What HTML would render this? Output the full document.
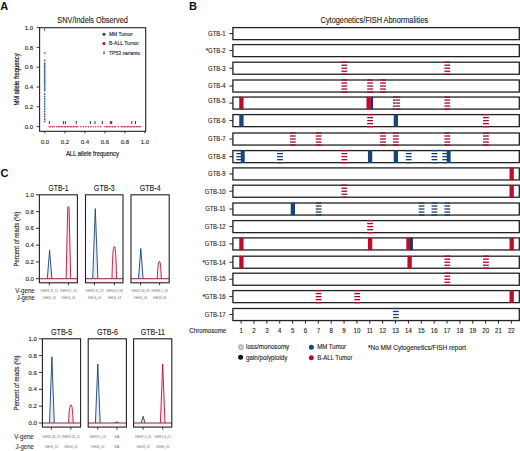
<!DOCTYPE html>
<html><head><meta charset="utf-8"><style>
html,body{margin:0;padding:0;background:#fff;}
svg{display:block;font-family:"Liberation Sans", sans-serif;}
</style></head><body>
<svg width="520" height="451" viewBox="0 0 520 451">
<rect width="520" height="451" fill="#fff"/>
<text x="0.20" y="9.80" font-size="11" font-weight="bold" fill="#111">A</text>
<text x="189.00" y="9.80" font-size="11" font-weight="bold" fill="#111">B</text>
<text x="0.60" y="177.30" font-size="11" font-weight="bold" fill="#111">C</text>
<text x="92.60" y="22.70" font-size="8.6" text-anchor="middle" textLength="70.5" lengthAdjust="spacingAndGlyphs" fill="#1e1e1e" stroke="#1e1e1e" stroke-width="0.12">SNV/Indels Observed</text>
<rect x="39.60" y="27.70" width="106.10" height="103.60" fill="none" stroke="#222" stroke-width="1.1"/>
<line x1="36.60" y1="126.60" x2="39.60" y2="126.60" stroke="#222" stroke-width="0.9"/>
<text x="33.00" y="128.70" font-size="6.0" text-anchor="end" fill="#1e1e1e" stroke="#1e1e1e" stroke-width="0.12">0.0</text>
<line x1="44.80" y1="131.30" x2="44.80" y2="133.30" stroke="#222" stroke-width="0.9"/>
<text x="44.80" y="143.60" font-size="6.0" text-anchor="middle" fill="#1e1e1e" stroke="#1e1e1e" stroke-width="0.12">0.0</text>
<line x1="36.60" y1="106.80" x2="39.60" y2="106.80" stroke="#222" stroke-width="0.9"/>
<text x="33.00" y="108.90" font-size="6.0" text-anchor="end" fill="#1e1e1e" stroke="#1e1e1e" stroke-width="0.12">0.2</text>
<line x1="64.80" y1="131.30" x2="64.80" y2="133.30" stroke="#222" stroke-width="0.9"/>
<text x="64.80" y="143.60" font-size="6.0" text-anchor="middle" fill="#1e1e1e" stroke="#1e1e1e" stroke-width="0.12">0.2</text>
<line x1="36.60" y1="87.00" x2="39.60" y2="87.00" stroke="#222" stroke-width="0.9"/>
<text x="33.00" y="89.10" font-size="6.0" text-anchor="end" fill="#1e1e1e" stroke="#1e1e1e" stroke-width="0.12">0.4</text>
<line x1="84.80" y1="131.30" x2="84.80" y2="133.30" stroke="#222" stroke-width="0.9"/>
<text x="84.80" y="143.60" font-size="6.0" text-anchor="middle" fill="#1e1e1e" stroke="#1e1e1e" stroke-width="0.12">0.4</text>
<line x1="36.60" y1="67.20" x2="39.60" y2="67.20" stroke="#222" stroke-width="0.9"/>
<text x="33.00" y="69.30" font-size="6.0" text-anchor="end" fill="#1e1e1e" stroke="#1e1e1e" stroke-width="0.12">0.6</text>
<line x1="104.80" y1="131.30" x2="104.80" y2="133.30" stroke="#222" stroke-width="0.9"/>
<text x="104.80" y="143.60" font-size="6.0" text-anchor="middle" fill="#1e1e1e" stroke="#1e1e1e" stroke-width="0.12">0.6</text>
<line x1="36.60" y1="47.40" x2="39.60" y2="47.40" stroke="#222" stroke-width="0.9"/>
<text x="33.00" y="49.50" font-size="6.0" text-anchor="end" fill="#1e1e1e" stroke="#1e1e1e" stroke-width="0.12">0.8</text>
<line x1="124.80" y1="131.30" x2="124.80" y2="133.30" stroke="#222" stroke-width="0.9"/>
<text x="124.80" y="143.60" font-size="6.0" text-anchor="middle" fill="#1e1e1e" stroke="#1e1e1e" stroke-width="0.12">0.8</text>
<line x1="36.60" y1="27.60" x2="39.60" y2="27.60" stroke="#222" stroke-width="0.9"/>
<text x="33.00" y="29.70" font-size="6.0" text-anchor="end" fill="#1e1e1e" stroke="#1e1e1e" stroke-width="0.12">1.0</text>
<line x1="144.80" y1="131.30" x2="144.80" y2="133.30" stroke="#222" stroke-width="0.9"/>
<text x="144.80" y="143.60" font-size="6.0" text-anchor="middle" fill="#1e1e1e" stroke="#1e1e1e" stroke-width="0.12">1.0</text>
<text x="65.90" y="155.50" font-size="8.1" textLength="53.0" lengthAdjust="spacingAndGlyphs" fill="#222" stroke="#222" stroke-width="0.22">ALL allele frequency</text>
<text transform="translate(18.80,105.60) rotate(-90)" font-size="7.9" textLength="52.2" lengthAdjust="spacingAndGlyphs" fill="#222" stroke="#222" stroke-width="0.22">MM allele frequency</text>
<circle cx="104.0" cy="34.3" r="1.55" fill="#184476"/>
<text x="109.00" y="36.20" font-size="5.7" textLength="23.6" lengthAdjust="spacingAndGlyphs" fill="#1e1e1e" stroke="#1e1e1e" stroke-width="0.12">MM Tumor</text>
<circle cx="104.0" cy="43.5" r="1.55" fill="#bd0b2b"/>
<text x="109.00" y="45.40" font-size="5.7" textLength="29.6" lengthAdjust="spacingAndGlyphs" fill="#1e1e1e" stroke="#1e1e1e" stroke-width="0.12">B-ALL Tumor</text>
<line x1="104.0" y1="51.2" x2="104.0" y2="54.2" stroke="#6a1d3c" stroke-width="1.1"/>
<text x="109.00" y="54.60" font-size="5.7" textLength="31.0" lengthAdjust="spacingAndGlyphs" fill="#1e1e1e" stroke="#1e1e1e" stroke-width="0.12">TP53 variants</text>
<circle cx="44.70" cy="63.30" r="0.95" fill="#184476" fill-opacity="0.8"/>
<circle cx="44.70" cy="65.00" r="0.95" fill="#184476" fill-opacity="0.8"/>
<circle cx="44.70" cy="66.70" r="0.95" fill="#184476" fill-opacity="0.8"/>
<circle cx="44.70" cy="68.40" r="0.95" fill="#184476" fill-opacity="0.8"/>
<circle cx="44.70" cy="70.10" r="0.95" fill="#184476" fill-opacity="0.8"/>
<circle cx="44.70" cy="71.80" r="0.95" fill="#184476" fill-opacity="0.8"/>
<circle cx="44.70" cy="73.50" r="0.95" fill="#184476" fill-opacity="0.8"/>
<circle cx="44.70" cy="75.20" r="0.95" fill="#184476" fill-opacity="0.8"/>
<circle cx="44.70" cy="76.90" r="0.95" fill="#184476" fill-opacity="0.8"/>
<circle cx="44.70" cy="78.60" r="0.95" fill="#184476" fill-opacity="0.8"/>
<circle cx="44.70" cy="80.30" r="0.95" fill="#184476" fill-opacity="0.8"/>
<circle cx="44.70" cy="82.00" r="0.95" fill="#184476" fill-opacity="0.8"/>
<circle cx="44.70" cy="83.70" r="0.95" fill="#184476" fill-opacity="0.8"/>
<circle cx="44.70" cy="85.40" r="0.95" fill="#184476" fill-opacity="0.8"/>
<circle cx="44.70" cy="87.10" r="0.95" fill="#184476" fill-opacity="0.8"/>
<circle cx="44.70" cy="88.80" r="0.95" fill="#184476" fill-opacity="0.8"/>
<circle cx="44.70" cy="90.50" r="0.95" fill="#184476" fill-opacity="0.8"/>
<circle cx="44.70" cy="94.00" r="0.95" fill="#184476" fill-opacity="0.8"/>
<circle cx="44.70" cy="96.50" r="0.95" fill="#184476" fill-opacity="0.8"/>
<circle cx="44.70" cy="99.00" r="0.95" fill="#184476" fill-opacity="0.8"/>
<circle cx="44.70" cy="101.50" r="0.95" fill="#184476" fill-opacity="0.8"/>
<circle cx="44.70" cy="104.00" r="0.95" fill="#184476" fill-opacity="0.8"/>
<circle cx="44.70" cy="106.50" r="0.95" fill="#184476" fill-opacity="0.8"/>
<circle cx="44.70" cy="109.00" r="0.95" fill="#184476" fill-opacity="0.8"/>
<circle cx="44.70" cy="111.50" r="0.95" fill="#184476" fill-opacity="0.8"/>
<circle cx="44.70" cy="114.00" r="0.95" fill="#184476" fill-opacity="0.8"/>
<circle cx="44.70" cy="116.50" r="0.95" fill="#184476" fill-opacity="0.8"/>
<circle cx="44.70" cy="119.00" r="0.95" fill="#184476" fill-opacity="0.8"/>
<circle cx="44.70" cy="121.50" r="0.95" fill="#184476" fill-opacity="0.8"/>
<circle cx="44.70" cy="60.40" r="0.95" fill="#184476" fill-opacity="0.8"/>
<circle cx="44.70" cy="53.10" r="0.95" fill="#184476" fill-opacity="0.8"/>
<circle cx="49.20" cy="126.7" r="0.75" fill="#bd0b2b" fill-opacity="0.9"/>
<circle cx="50.80" cy="126.7" r="0.75" fill="#bd0b2b" fill-opacity="0.9"/>
<circle cx="52.40" cy="126.7" r="0.75" fill="#bd0b2b" fill-opacity="0.9"/>
<circle cx="54.00" cy="126.7" r="0.75" fill="#bd0b2b" fill-opacity="0.9"/>
<circle cx="56.80" cy="126.7" r="0.75" fill="#bd0b2b" fill-opacity="0.9"/>
<circle cx="58.30" cy="126.7" r="0.75" fill="#bd0b2b" fill-opacity="0.9"/>
<circle cx="59.80" cy="126.7" r="0.75" fill="#bd0b2b" fill-opacity="0.9"/>
<circle cx="61.30" cy="126.7" r="0.75" fill="#bd0b2b" fill-opacity="0.9"/>
<circle cx="62.80" cy="126.7" r="0.75" fill="#bd0b2b" fill-opacity="0.9"/>
<circle cx="64.30" cy="126.7" r="0.75" fill="#bd0b2b" fill-opacity="0.9"/>
<circle cx="65.80" cy="126.7" r="0.75" fill="#bd0b2b" fill-opacity="0.9"/>
<circle cx="67.30" cy="126.7" r="0.75" fill="#bd0b2b" fill-opacity="0.9"/>
<circle cx="68.80" cy="126.7" r="0.75" fill="#bd0b2b" fill-opacity="0.9"/>
<circle cx="70.30" cy="126.7" r="0.75" fill="#bd0b2b" fill-opacity="0.9"/>
<circle cx="71.80" cy="126.7" r="0.75" fill="#bd0b2b" fill-opacity="0.9"/>
<circle cx="73.30" cy="126.7" r="0.75" fill="#bd0b2b" fill-opacity="0.9"/>
<circle cx="74.80" cy="126.7" r="0.75" fill="#bd0b2b" fill-opacity="0.9"/>
<circle cx="76.30" cy="126.7" r="0.75" fill="#bd0b2b" fill-opacity="0.9"/>
<circle cx="77.80" cy="126.7" r="0.75" fill="#bd0b2b" fill-opacity="0.9"/>
<circle cx="81.00" cy="126.7" r="0.75" fill="#bd0b2b" fill-opacity="0.9"/>
<circle cx="83.45" cy="126.7" r="0.75" fill="#bd0b2b" fill-opacity="0.9"/>
<circle cx="85.90" cy="126.7" r="0.75" fill="#bd0b2b" fill-opacity="0.9"/>
<circle cx="88.35" cy="126.7" r="0.75" fill="#bd0b2b" fill-opacity="0.9"/>
<circle cx="90.80" cy="126.7" r="0.75" fill="#bd0b2b" fill-opacity="0.9"/>
<circle cx="93.25" cy="126.7" r="0.75" fill="#bd0b2b" fill-opacity="0.9"/>
<circle cx="95.70" cy="126.7" r="0.75" fill="#bd0b2b" fill-opacity="0.9"/>
<circle cx="98.15" cy="126.7" r="0.75" fill="#bd0b2b" fill-opacity="0.9"/>
<circle cx="100.60" cy="126.7" r="0.75" fill="#bd0b2b" fill-opacity="0.9"/>
<circle cx="105.00" cy="126.7" r="0.75" fill="#bd0b2b" fill-opacity="0.9"/>
<circle cx="106.50" cy="126.7" r="0.75" fill="#bd0b2b" fill-opacity="0.9"/>
<circle cx="108.00" cy="126.7" r="0.75" fill="#bd0b2b" fill-opacity="0.9"/>
<circle cx="109.50" cy="126.7" r="0.75" fill="#bd0b2b" fill-opacity="0.9"/>
<circle cx="111.00" cy="126.7" r="0.75" fill="#bd0b2b" fill-opacity="0.9"/>
<circle cx="112.50" cy="126.7" r="0.75" fill="#bd0b2b" fill-opacity="0.9"/>
<circle cx="114.00" cy="126.7" r="0.75" fill="#bd0b2b" fill-opacity="0.9"/>
<circle cx="115.50" cy="126.7" r="0.75" fill="#bd0b2b" fill-opacity="0.9"/>
<circle cx="118.50" cy="126.7" r="0.75" fill="#bd0b2b" fill-opacity="0.9"/>
<circle cx="121.30" cy="126.7" r="0.75" fill="#bd0b2b" fill-opacity="0.9"/>
<circle cx="122.80" cy="126.7" r="0.75" fill="#bd0b2b" fill-opacity="0.9"/>
<circle cx="124.30" cy="126.7" r="0.75" fill="#bd0b2b" fill-opacity="0.9"/>
<circle cx="125.80" cy="126.7" r="0.75" fill="#bd0b2b" fill-opacity="0.9"/>
<circle cx="127.30" cy="126.7" r="0.75" fill="#bd0b2b" fill-opacity="0.9"/>
<circle cx="128.80" cy="126.7" r="0.75" fill="#bd0b2b" fill-opacity="0.9"/>
<circle cx="130.30" cy="126.7" r="0.75" fill="#bd0b2b" fill-opacity="0.9"/>
<circle cx="131.80" cy="126.7" r="0.75" fill="#bd0b2b" fill-opacity="0.9"/>
<circle cx="133.30" cy="126.7" r="0.75" fill="#bd0b2b" fill-opacity="0.9"/>
<circle cx="134.80" cy="126.7" r="0.75" fill="#bd0b2b" fill-opacity="0.9"/>
<circle cx="136.30" cy="126.7" r="0.75" fill="#bd0b2b" fill-opacity="0.9"/>
<circle cx="137.80" cy="126.7" r="0.75" fill="#bd0b2b" fill-opacity="0.9"/>
<circle cx="139.30" cy="126.7" r="0.75" fill="#bd0b2b" fill-opacity="0.9"/>
<circle cx="140.80" cy="126.7" r="0.75" fill="#bd0b2b" fill-opacity="0.9"/>
<line x1="49.4" y1="121.0" x2="49.4" y2="124.1" stroke="#6a1d3c" stroke-width="1.0"/>
<line x1="63.35" y1="121.0" x2="63.35" y2="124.1" stroke="#6a1d3c" stroke-width="1.0"/>
<line x1="65.3" y1="121.0" x2="65.3" y2="124.1" stroke="#6a1d3c" stroke-width="1.0"/>
<line x1="76.3" y1="121.0" x2="76.3" y2="124.1" stroke="#6a1d3c" stroke-width="1.0"/>
<line x1="90.4" y1="121.0" x2="90.4" y2="124.1" stroke="#6a1d3c" stroke-width="1.0"/>
<line x1="95.0" y1="121.0" x2="95.0" y2="124.1" stroke="#6a1d3c" stroke-width="1.0"/>
<line x1="102.3" y1="121.0" x2="102.3" y2="124.1" stroke="#6a1d3c" stroke-width="1.0"/>
<line x1="110.4" y1="121.0" x2="110.4" y2="124.1" stroke="#6a1d3c" stroke-width="1.0"/>
<line x1="111.7" y1="121.0" x2="111.7" y2="124.1" stroke="#6a1d3c" stroke-width="1.0"/>
<line x1="131.8" y1="121.0" x2="131.8" y2="124.1" stroke="#6a1d3c" stroke-width="1.0"/>
<line x1="135.5" y1="121.0" x2="135.5" y2="124.1" stroke="#6a1d3c" stroke-width="1.0"/>
<line x1="44.70" y1="28.6" x2="44.70" y2="30.8" stroke="#4a2a4a" stroke-width="0.9"/>
<text x="374.40" y="22.90" font-size="8.5" text-anchor="middle" textLength="107.6" lengthAdjust="spacingAndGlyphs" fill="#1e1e1e" stroke="#1e1e1e" stroke-width="0.12">Cytogenetics/FISH Abnormalities</text>
<rect x="232.90" y="27.60" width="286.40" height="12.05" fill="#fff" stroke="#222" stroke-width="1.3"/>
<line x1="229.40" y1="33.62" x2="232.90" y2="33.62" stroke="#222" stroke-width="1.0"/>
<text x="225.60" y="35.92" font-size="6.6" text-anchor="end" textLength="17.49" lengthAdjust="spacingAndGlyphs" fill="#1e1e1e" stroke="#1e1e1e" stroke-width="0.12">GTB-1</text>
<rect x="232.90" y="44.60" width="286.40" height="12.05" fill="#fff" stroke="#222" stroke-width="1.3"/>
<line x1="229.40" y1="50.62" x2="232.90" y2="50.62" stroke="#222" stroke-width="1.0"/>
<text x="225.60" y="52.92" font-size="6.6" text-anchor="end" textLength="19.8" lengthAdjust="spacingAndGlyphs" fill="#1e1e1e" stroke="#1e1e1e" stroke-width="0.12">*GTB-2</text>
<rect x="232.90" y="62.20" width="286.40" height="12.05" fill="#fff" stroke="#222" stroke-width="1.3"/>
<line x1="229.40" y1="68.23" x2="232.90" y2="68.23" stroke="#222" stroke-width="1.0"/>
<text x="225.60" y="70.53" font-size="6.6" text-anchor="end" textLength="17.49" lengthAdjust="spacingAndGlyphs" fill="#1e1e1e" stroke="#1e1e1e" stroke-width="0.12">GTB-3</text>
<rect x="232.90" y="80.00" width="286.40" height="12.05" fill="#fff" stroke="#222" stroke-width="1.3"/>
<line x1="229.40" y1="86.03" x2="232.90" y2="86.03" stroke="#222" stroke-width="1.0"/>
<text x="225.60" y="88.33" font-size="6.6" text-anchor="end" textLength="17.49" lengthAdjust="spacingAndGlyphs" fill="#1e1e1e" stroke="#1e1e1e" stroke-width="0.12">GTB-4</text>
<rect x="232.90" y="97.05" width="286.40" height="12.05" fill="#fff" stroke="#222" stroke-width="1.3"/>
<line x1="229.40" y1="103.08" x2="232.90" y2="103.08" stroke="#222" stroke-width="1.0"/>
<text x="225.60" y="103.28" font-size="6.6" text-anchor="end" textLength="17.49" lengthAdjust="spacingAndGlyphs" fill="#1e1e1e" stroke="#1e1e1e" stroke-width="0.12">GTB-5</text>
<rect x="232.90" y="114.60" width="286.40" height="12.05" fill="#fff" stroke="#222" stroke-width="1.3"/>
<line x1="229.40" y1="120.62" x2="232.90" y2="120.62" stroke="#222" stroke-width="1.0"/>
<text x="225.60" y="122.92" font-size="6.6" text-anchor="end" textLength="17.49" lengthAdjust="spacingAndGlyphs" fill="#1e1e1e" stroke="#1e1e1e" stroke-width="0.12">GTB-6</text>
<rect x="232.90" y="133.00" width="286.40" height="12.05" fill="#fff" stroke="#222" stroke-width="1.3"/>
<line x1="229.40" y1="139.03" x2="232.90" y2="139.03" stroke="#222" stroke-width="1.0"/>
<text x="225.60" y="141.33" font-size="6.6" text-anchor="end" textLength="17.49" lengthAdjust="spacingAndGlyphs" fill="#1e1e1e" stroke="#1e1e1e" stroke-width="0.12">GTB-7</text>
<rect x="232.90" y="150.60" width="286.40" height="12.05" fill="#fff" stroke="#222" stroke-width="1.3"/>
<line x1="229.40" y1="156.62" x2="232.90" y2="156.62" stroke="#222" stroke-width="1.0"/>
<text x="225.60" y="158.93" font-size="6.6" text-anchor="end" textLength="17.49" lengthAdjust="spacingAndGlyphs" fill="#1e1e1e" stroke="#1e1e1e" stroke-width="0.12">GTB-8</text>
<rect x="232.90" y="167.90" width="286.40" height="12.05" fill="#fff" stroke="#222" stroke-width="1.3"/>
<line x1="229.40" y1="173.93" x2="232.90" y2="173.93" stroke="#222" stroke-width="1.0"/>
<text x="225.60" y="176.23" font-size="6.6" text-anchor="end" textLength="17.49" lengthAdjust="spacingAndGlyphs" fill="#1e1e1e" stroke="#1e1e1e" stroke-width="0.12">GTB-9</text>
<rect x="232.90" y="185.20" width="286.40" height="12.05" fill="#fff" stroke="#222" stroke-width="1.3"/>
<line x1="229.40" y1="191.22" x2="232.90" y2="191.22" stroke="#222" stroke-width="1.0"/>
<text x="225.60" y="193.53" font-size="6.6" text-anchor="end" textLength="20.79" lengthAdjust="spacingAndGlyphs" fill="#1e1e1e" stroke="#1e1e1e" stroke-width="0.12">GTB-10</text>
<rect x="232.90" y="203.00" width="286.40" height="12.05" fill="#fff" stroke="#222" stroke-width="1.3"/>
<line x1="229.40" y1="209.03" x2="232.90" y2="209.03" stroke="#222" stroke-width="1.0"/>
<text x="225.60" y="211.33" font-size="6.6" text-anchor="end" textLength="20.35" lengthAdjust="spacingAndGlyphs" fill="#1e1e1e" stroke="#1e1e1e" stroke-width="0.12">GTB-11</text>
<rect x="232.90" y="220.60" width="286.40" height="12.05" fill="#fff" stroke="#222" stroke-width="1.3"/>
<line x1="229.40" y1="226.62" x2="232.90" y2="226.62" stroke="#222" stroke-width="1.0"/>
<text x="225.60" y="228.93" font-size="6.6" text-anchor="end" textLength="20.79" lengthAdjust="spacingAndGlyphs" fill="#1e1e1e" stroke="#1e1e1e" stroke-width="0.12">GTB-12</text>
<rect x="232.90" y="237.90" width="286.40" height="12.05" fill="#fff" stroke="#222" stroke-width="1.3"/>
<line x1="229.40" y1="243.93" x2="232.90" y2="243.93" stroke="#222" stroke-width="1.0"/>
<text x="225.60" y="246.23" font-size="6.6" text-anchor="end" textLength="20.79" lengthAdjust="spacingAndGlyphs" fill="#1e1e1e" stroke="#1e1e1e" stroke-width="0.12">GTB-13</text>
<rect x="232.90" y="256.20" width="286.40" height="12.05" fill="#fff" stroke="#222" stroke-width="1.3"/>
<line x1="229.40" y1="262.22" x2="232.90" y2="262.22" stroke="#222" stroke-width="1.0"/>
<text x="225.60" y="264.52" font-size="6.6" text-anchor="end" textLength="23.11" lengthAdjust="spacingAndGlyphs" fill="#1e1e1e" stroke="#1e1e1e" stroke-width="0.12">*GTB-14</text>
<rect x="232.90" y="273.20" width="286.40" height="12.05" fill="#fff" stroke="#222" stroke-width="1.3"/>
<line x1="229.40" y1="279.22" x2="232.90" y2="279.22" stroke="#222" stroke-width="1.0"/>
<text x="225.60" y="281.02" font-size="6.6" text-anchor="end" textLength="20.79" lengthAdjust="spacingAndGlyphs" fill="#1e1e1e" stroke="#1e1e1e" stroke-width="0.12">GTB-15</text>
<rect x="232.90" y="290.60" width="286.40" height="12.05" fill="#fff" stroke="#222" stroke-width="1.3"/>
<line x1="229.40" y1="296.62" x2="232.90" y2="296.62" stroke="#222" stroke-width="1.0"/>
<text x="225.60" y="298.93" font-size="6.6" text-anchor="end" textLength="23.11" lengthAdjust="spacingAndGlyphs" fill="#1e1e1e" stroke="#1e1e1e" stroke-width="0.12">*GTB-16</text>
<rect x="232.90" y="308.50" width="286.40" height="12.05" fill="#fff" stroke="#222" stroke-width="1.3"/>
<line x1="229.40" y1="314.52" x2="232.90" y2="314.52" stroke="#222" stroke-width="1.0"/>
<text x="225.60" y="316.82" font-size="6.6" text-anchor="end" textLength="20.79" lengthAdjust="spacingAndGlyphs" fill="#1e1e1e" stroke="#1e1e1e" stroke-width="0.12">GTB-17</text>
<rect x="341.46" y="61.55" width="5.80" height="1.30" fill="#9c0e2a" stroke="none" stroke-width="0"/>
<rect x="341.46" y="64.56" width="5.80" height="1.30" fill="#9c0e2a" stroke="none" stroke-width="0"/>
<rect x="341.46" y="67.58" width="5.80" height="1.30" fill="#9c0e2a" stroke="none" stroke-width="0"/>
<rect x="341.46" y="70.59" width="5.80" height="1.30" fill="#9c0e2a" stroke="none" stroke-width="0"/>
<rect x="341.46" y="73.60" width="5.80" height="1.30" fill="#9c0e2a" stroke="none" stroke-width="0"/>
<rect x="444.42" y="61.55" width="5.80" height="1.30" fill="#9c0e2a" stroke="none" stroke-width="0"/>
<rect x="444.42" y="64.56" width="5.80" height="1.30" fill="#9c0e2a" stroke="none" stroke-width="0"/>
<rect x="444.42" y="67.58" width="5.80" height="1.30" fill="#9c0e2a" stroke="none" stroke-width="0"/>
<rect x="444.42" y="70.59" width="5.80" height="1.30" fill="#9c0e2a" stroke="none" stroke-width="0"/>
<rect x="444.42" y="73.60" width="5.80" height="1.30" fill="#9c0e2a" stroke="none" stroke-width="0"/>
<rect x="341.46" y="79.35" width="5.80" height="1.30" fill="#9c0e2a" stroke="none" stroke-width="0"/>
<rect x="341.46" y="82.36" width="5.80" height="1.30" fill="#9c0e2a" stroke="none" stroke-width="0"/>
<rect x="341.46" y="85.38" width="5.80" height="1.30" fill="#9c0e2a" stroke="none" stroke-width="0"/>
<rect x="341.46" y="88.39" width="5.80" height="1.30" fill="#9c0e2a" stroke="none" stroke-width="0"/>
<rect x="341.46" y="91.40" width="5.80" height="1.30" fill="#9c0e2a" stroke="none" stroke-width="0"/>
<rect x="367.20" y="79.35" width="5.80" height="1.30" fill="#9c0e2a" stroke="none" stroke-width="0"/>
<rect x="367.20" y="82.36" width="5.80" height="1.30" fill="#9c0e2a" stroke="none" stroke-width="0"/>
<rect x="367.20" y="85.38" width="5.80" height="1.30" fill="#9c0e2a" stroke="none" stroke-width="0"/>
<rect x="367.20" y="88.39" width="5.80" height="1.30" fill="#9c0e2a" stroke="none" stroke-width="0"/>
<rect x="367.20" y="91.40" width="5.80" height="1.30" fill="#9c0e2a" stroke="none" stroke-width="0"/>
<rect x="380.07" y="79.35" width="5.80" height="1.30" fill="#9c0e2a" stroke="none" stroke-width="0"/>
<rect x="380.07" y="82.36" width="5.80" height="1.30" fill="#9c0e2a" stroke="none" stroke-width="0"/>
<rect x="380.07" y="85.38" width="5.80" height="1.30" fill="#9c0e2a" stroke="none" stroke-width="0"/>
<rect x="380.07" y="88.39" width="5.80" height="1.30" fill="#9c0e2a" stroke="none" stroke-width="0"/>
<rect x="380.07" y="91.40" width="5.80" height="1.30" fill="#9c0e2a" stroke="none" stroke-width="0"/>
<rect x="239.25" y="96.75" width="4.30" height="12.65" fill="#bd0b2b" stroke="none" stroke-width="0"/>
<rect x="366.50" y="96.75" width="4.40" height="12.65" fill="#bd0b2b" stroke="none" stroke-width="0"/>
<rect x="370.90" y="96.75" width="2.20" height="12.65" fill="#2a2e62" stroke="none" stroke-width="0"/>
<rect x="392.94" y="96.40" width="2.40" height="1.30" fill="#2a2e55" stroke="none" stroke-width="0"/>
<rect x="395.34" y="96.40" width="4.60" height="1.30" fill="#9c0e2a" stroke="none" stroke-width="0"/>
<rect x="392.94" y="99.41" width="2.40" height="1.30" fill="#2a2e55" stroke="none" stroke-width="0"/>
<rect x="395.34" y="99.41" width="4.60" height="1.30" fill="#9c0e2a" stroke="none" stroke-width="0"/>
<rect x="392.94" y="102.42" width="2.40" height="1.30" fill="#2a2e55" stroke="none" stroke-width="0"/>
<rect x="395.34" y="102.42" width="4.60" height="1.30" fill="#9c0e2a" stroke="none" stroke-width="0"/>
<rect x="392.94" y="105.44" width="2.40" height="1.30" fill="#2a2e55" stroke="none" stroke-width="0"/>
<rect x="395.34" y="105.44" width="4.60" height="1.30" fill="#9c0e2a" stroke="none" stroke-width="0"/>
<rect x="392.94" y="108.45" width="2.40" height="1.30" fill="#2a2e55" stroke="none" stroke-width="0"/>
<rect x="395.34" y="108.45" width="4.60" height="1.30" fill="#9c0e2a" stroke="none" stroke-width="0"/>
<rect x="444.42" y="96.40" width="5.80" height="1.30" fill="#9c0e2a" stroke="none" stroke-width="0"/>
<rect x="444.42" y="99.41" width="5.80" height="1.30" fill="#9c0e2a" stroke="none" stroke-width="0"/>
<rect x="444.42" y="102.42" width="5.80" height="1.30" fill="#9c0e2a" stroke="none" stroke-width="0"/>
<rect x="444.42" y="105.44" width="5.80" height="1.30" fill="#9c0e2a" stroke="none" stroke-width="0"/>
<rect x="444.42" y="108.45" width="5.80" height="1.30" fill="#9c0e2a" stroke="none" stroke-width="0"/>
<rect x="239.25" y="114.30" width="4.30" height="12.65" fill="#184476" stroke="none" stroke-width="0"/>
<rect x="367.20" y="113.95" width="5.80" height="1.30" fill="#9c0e2a" stroke="none" stroke-width="0"/>
<rect x="367.20" y="116.96" width="5.80" height="1.30" fill="#9c0e2a" stroke="none" stroke-width="0"/>
<rect x="367.20" y="119.97" width="5.80" height="1.30" fill="#9c0e2a" stroke="none" stroke-width="0"/>
<rect x="367.20" y="122.99" width="5.80" height="1.30" fill="#9c0e2a" stroke="none" stroke-width="0"/>
<rect x="367.20" y="126.00" width="5.80" height="1.30" fill="#9c0e2a" stroke="none" stroke-width="0"/>
<rect x="393.69" y="114.30" width="4.30" height="12.65" fill="#184476" stroke="none" stroke-width="0"/>
<rect x="483.03" y="113.95" width="5.80" height="1.30" fill="#9c0e2a" stroke="none" stroke-width="0"/>
<rect x="483.03" y="116.96" width="5.80" height="1.30" fill="#9c0e2a" stroke="none" stroke-width="0"/>
<rect x="483.03" y="119.97" width="5.80" height="1.30" fill="#9c0e2a" stroke="none" stroke-width="0"/>
<rect x="483.03" y="122.99" width="5.80" height="1.30" fill="#9c0e2a" stroke="none" stroke-width="0"/>
<rect x="483.03" y="126.00" width="5.80" height="1.30" fill="#9c0e2a" stroke="none" stroke-width="0"/>
<rect x="289.98" y="132.35" width="5.80" height="1.30" fill="#9c0e2a" stroke="none" stroke-width="0"/>
<rect x="289.98" y="135.36" width="5.80" height="1.30" fill="#9c0e2a" stroke="none" stroke-width="0"/>
<rect x="289.98" y="138.38" width="5.80" height="1.30" fill="#9c0e2a" stroke="none" stroke-width="0"/>
<rect x="289.98" y="141.39" width="5.80" height="1.30" fill="#9c0e2a" stroke="none" stroke-width="0"/>
<rect x="289.98" y="144.40" width="5.80" height="1.30" fill="#9c0e2a" stroke="none" stroke-width="0"/>
<rect x="315.72" y="132.35" width="5.80" height="1.30" fill="#9c0e2a" stroke="none" stroke-width="0"/>
<rect x="315.72" y="135.36" width="5.80" height="1.30" fill="#9c0e2a" stroke="none" stroke-width="0"/>
<rect x="315.72" y="138.38" width="5.80" height="1.30" fill="#9c0e2a" stroke="none" stroke-width="0"/>
<rect x="315.72" y="141.39" width="5.80" height="1.30" fill="#9c0e2a" stroke="none" stroke-width="0"/>
<rect x="315.72" y="144.40" width="5.80" height="1.30" fill="#9c0e2a" stroke="none" stroke-width="0"/>
<rect x="380.07" y="132.35" width="5.80" height="1.30" fill="#9c0e2a" stroke="none" stroke-width="0"/>
<rect x="380.07" y="135.36" width="5.80" height="1.30" fill="#9c0e2a" stroke="none" stroke-width="0"/>
<rect x="380.07" y="138.38" width="5.80" height="1.30" fill="#9c0e2a" stroke="none" stroke-width="0"/>
<rect x="380.07" y="141.39" width="5.80" height="1.30" fill="#9c0e2a" stroke="none" stroke-width="0"/>
<rect x="380.07" y="144.40" width="5.80" height="1.30" fill="#9c0e2a" stroke="none" stroke-width="0"/>
<rect x="392.94" y="132.35" width="5.80" height="1.30" fill="#9c0e2a" stroke="none" stroke-width="0"/>
<rect x="392.94" y="135.36" width="5.80" height="1.30" fill="#9c0e2a" stroke="none" stroke-width="0"/>
<rect x="392.94" y="138.38" width="5.80" height="1.30" fill="#9c0e2a" stroke="none" stroke-width="0"/>
<rect x="392.94" y="141.39" width="5.80" height="1.30" fill="#9c0e2a" stroke="none" stroke-width="0"/>
<rect x="392.94" y="144.40" width="5.80" height="1.30" fill="#9c0e2a" stroke="none" stroke-width="0"/>
<rect x="444.42" y="132.35" width="5.80" height="1.30" fill="#9c0e2a" stroke="none" stroke-width="0"/>
<rect x="444.42" y="135.36" width="5.80" height="1.30" fill="#9c0e2a" stroke="none" stroke-width="0"/>
<rect x="444.42" y="138.38" width="5.80" height="1.30" fill="#9c0e2a" stroke="none" stroke-width="0"/>
<rect x="444.42" y="141.39" width="5.80" height="1.30" fill="#9c0e2a" stroke="none" stroke-width="0"/>
<rect x="444.42" y="144.40" width="5.80" height="1.30" fill="#9c0e2a" stroke="none" stroke-width="0"/>
<rect x="483.03" y="132.35" width="5.80" height="1.30" fill="#9c0e2a" stroke="none" stroke-width="0"/>
<rect x="483.03" y="135.36" width="5.80" height="1.30" fill="#9c0e2a" stroke="none" stroke-width="0"/>
<rect x="483.03" y="138.38" width="5.80" height="1.30" fill="#9c0e2a" stroke="none" stroke-width="0"/>
<rect x="483.03" y="141.39" width="5.80" height="1.30" fill="#9c0e2a" stroke="none" stroke-width="0"/>
<rect x="483.03" y="144.40" width="5.80" height="1.30" fill="#9c0e2a" stroke="none" stroke-width="0"/>
<rect x="236.40" y="149.95" width="4.60" height="1.30" fill="#163f6e" stroke="none" stroke-width="0"/>
<rect x="236.40" y="152.96" width="4.60" height="1.30" fill="#163f6e" stroke="none" stroke-width="0"/>
<rect x="236.40" y="155.97" width="4.60" height="1.30" fill="#163f6e" stroke="none" stroke-width="0"/>
<rect x="236.40" y="158.99" width="4.60" height="1.30" fill="#163f6e" stroke="none" stroke-width="0"/>
<rect x="236.40" y="162.00" width="4.60" height="1.30" fill="#163f6e" stroke="none" stroke-width="0"/>
<rect x="240.80" y="150.30" width="3.90" height="12.65" fill="#184476" stroke="none" stroke-width="0"/>
<rect x="277.11" y="149.95" width="5.80" height="1.30" fill="#163f6e" stroke="none" stroke-width="0"/>
<rect x="277.11" y="152.96" width="5.80" height="1.30" fill="#163f6e" stroke="none" stroke-width="0"/>
<rect x="277.11" y="155.97" width="5.80" height="1.30" fill="#163f6e" stroke="none" stroke-width="0"/>
<rect x="277.11" y="158.99" width="5.80" height="1.30" fill="#163f6e" stroke="none" stroke-width="0"/>
<rect x="277.11" y="162.00" width="5.80" height="1.30" fill="#163f6e" stroke="none" stroke-width="0"/>
<rect x="341.46" y="149.95" width="5.80" height="1.30" fill="#9c0e2a" stroke="none" stroke-width="0"/>
<rect x="341.46" y="152.96" width="5.80" height="1.30" fill="#9c0e2a" stroke="none" stroke-width="0"/>
<rect x="341.46" y="155.97" width="5.80" height="1.30" fill="#9c0e2a" stroke="none" stroke-width="0"/>
<rect x="341.46" y="158.99" width="5.80" height="1.30" fill="#9c0e2a" stroke="none" stroke-width="0"/>
<rect x="341.46" y="162.00" width="5.80" height="1.30" fill="#9c0e2a" stroke="none" stroke-width="0"/>
<rect x="367.95" y="150.30" width="4.30" height="12.65" fill="#184476" stroke="none" stroke-width="0"/>
<rect x="393.69" y="150.30" width="4.30" height="12.65" fill="#184476" stroke="none" stroke-width="0"/>
<rect x="405.81" y="149.95" width="5.80" height="1.30" fill="#163f6e" stroke="none" stroke-width="0"/>
<rect x="405.81" y="152.96" width="5.80" height="1.30" fill="#163f6e" stroke="none" stroke-width="0"/>
<rect x="405.81" y="155.97" width="5.80" height="1.30" fill="#163f6e" stroke="none" stroke-width="0"/>
<rect x="405.81" y="158.99" width="5.80" height="1.30" fill="#163f6e" stroke="none" stroke-width="0"/>
<rect x="405.81" y="162.00" width="5.80" height="1.30" fill="#163f6e" stroke="none" stroke-width="0"/>
<rect x="431.55" y="149.95" width="5.80" height="1.30" fill="#163f6e" stroke="none" stroke-width="0"/>
<rect x="431.55" y="152.96" width="5.80" height="1.30" fill="#163f6e" stroke="none" stroke-width="0"/>
<rect x="431.55" y="155.97" width="5.80" height="1.30" fill="#163f6e" stroke="none" stroke-width="0"/>
<rect x="431.55" y="158.99" width="5.80" height="1.30" fill="#163f6e" stroke="none" stroke-width="0"/>
<rect x="431.55" y="162.00" width="5.80" height="1.30" fill="#163f6e" stroke="none" stroke-width="0"/>
<rect x="442.32" y="149.95" width="4.60" height="1.30" fill="#163f6e" stroke="none" stroke-width="0"/>
<rect x="442.32" y="152.96" width="4.60" height="1.30" fill="#163f6e" stroke="none" stroke-width="0"/>
<rect x="442.32" y="155.97" width="4.60" height="1.30" fill="#163f6e" stroke="none" stroke-width="0"/>
<rect x="442.32" y="158.99" width="4.60" height="1.30" fill="#163f6e" stroke="none" stroke-width="0"/>
<rect x="442.32" y="162.00" width="4.60" height="1.30" fill="#163f6e" stroke="none" stroke-width="0"/>
<rect x="446.72" y="150.30" width="3.90" height="12.65" fill="#184476" stroke="none" stroke-width="0"/>
<rect x="509.52" y="167.60" width="4.30" height="12.65" fill="#bd0b2b" stroke="none" stroke-width="0"/>
<rect x="341.46" y="184.55" width="5.80" height="1.30" fill="#9c0e2a" stroke="none" stroke-width="0"/>
<rect x="341.46" y="187.56" width="5.80" height="1.30" fill="#9c0e2a" stroke="none" stroke-width="0"/>
<rect x="341.46" y="190.57" width="5.80" height="1.30" fill="#9c0e2a" stroke="none" stroke-width="0"/>
<rect x="341.46" y="193.59" width="5.80" height="1.30" fill="#9c0e2a" stroke="none" stroke-width="0"/>
<rect x="341.46" y="196.60" width="5.80" height="1.30" fill="#9c0e2a" stroke="none" stroke-width="0"/>
<rect x="509.52" y="184.90" width="4.30" height="12.65" fill="#bd0b2b" stroke="none" stroke-width="0"/>
<rect x="290.73" y="202.70" width="4.30" height="12.65" fill="#184476" stroke="none" stroke-width="0"/>
<rect x="315.72" y="202.35" width="5.80" height="1.30" fill="#163f6e" stroke="none" stroke-width="0"/>
<rect x="315.72" y="205.36" width="5.80" height="1.30" fill="#163f6e" stroke="none" stroke-width="0"/>
<rect x="315.72" y="208.38" width="5.80" height="1.30" fill="#163f6e" stroke="none" stroke-width="0"/>
<rect x="315.72" y="211.39" width="5.80" height="1.30" fill="#163f6e" stroke="none" stroke-width="0"/>
<rect x="315.72" y="214.40" width="5.80" height="1.30" fill="#163f6e" stroke="none" stroke-width="0"/>
<rect x="418.68" y="202.35" width="5.80" height="1.30" fill="#163f6e" stroke="none" stroke-width="0"/>
<rect x="418.68" y="205.36" width="5.80" height="1.30" fill="#163f6e" stroke="none" stroke-width="0"/>
<rect x="418.68" y="208.38" width="5.80" height="1.30" fill="#163f6e" stroke="none" stroke-width="0"/>
<rect x="418.68" y="211.39" width="5.80" height="1.30" fill="#163f6e" stroke="none" stroke-width="0"/>
<rect x="418.68" y="214.40" width="5.80" height="1.30" fill="#163f6e" stroke="none" stroke-width="0"/>
<rect x="431.55" y="202.35" width="5.80" height="1.30" fill="#163f6e" stroke="none" stroke-width="0"/>
<rect x="431.55" y="205.36" width="5.80" height="1.30" fill="#163f6e" stroke="none" stroke-width="0"/>
<rect x="431.55" y="208.38" width="5.80" height="1.30" fill="#163f6e" stroke="none" stroke-width="0"/>
<rect x="431.55" y="211.39" width="5.80" height="1.30" fill="#163f6e" stroke="none" stroke-width="0"/>
<rect x="431.55" y="214.40" width="5.80" height="1.30" fill="#163f6e" stroke="none" stroke-width="0"/>
<rect x="444.42" y="202.35" width="5.80" height="1.30" fill="#163f6e" stroke="none" stroke-width="0"/>
<rect x="444.42" y="205.36" width="5.80" height="1.30" fill="#163f6e" stroke="none" stroke-width="0"/>
<rect x="444.42" y="208.38" width="5.80" height="1.30" fill="#163f6e" stroke="none" stroke-width="0"/>
<rect x="444.42" y="211.39" width="5.80" height="1.30" fill="#163f6e" stroke="none" stroke-width="0"/>
<rect x="444.42" y="214.40" width="5.80" height="1.30" fill="#163f6e" stroke="none" stroke-width="0"/>
<rect x="367.20" y="219.95" width="5.80" height="1.30" fill="#9c0e2a" stroke="none" stroke-width="0"/>
<rect x="367.20" y="222.96" width="5.80" height="1.30" fill="#9c0e2a" stroke="none" stroke-width="0"/>
<rect x="367.20" y="225.97" width="5.80" height="1.30" fill="#9c0e2a" stroke="none" stroke-width="0"/>
<rect x="367.20" y="228.99" width="5.80" height="1.30" fill="#9c0e2a" stroke="none" stroke-width="0"/>
<rect x="367.20" y="232.00" width="5.80" height="1.30" fill="#9c0e2a" stroke="none" stroke-width="0"/>
<rect x="239.25" y="237.60" width="4.30" height="12.65" fill="#bd0b2b" stroke="none" stroke-width="0"/>
<rect x="367.95" y="237.60" width="4.30" height="12.65" fill="#bd0b2b" stroke="none" stroke-width="0"/>
<rect x="406.31" y="237.60" width="3.70" height="12.65" fill="#bd0b2b" stroke="none" stroke-width="0"/>
<rect x="410.01" y="237.60" width="2.90" height="12.65" fill="#2a2e62" stroke="none" stroke-width="0"/>
<rect x="509.52" y="237.60" width="4.30" height="12.65" fill="#bd0b2b" stroke="none" stroke-width="0"/>
<rect x="239.25" y="255.90" width="4.30" height="12.65" fill="#bd0b2b" stroke="none" stroke-width="0"/>
<rect x="407.46" y="255.90" width="4.30" height="12.65" fill="#bd0b2b" stroke="none" stroke-width="0"/>
<rect x="444.42" y="255.55" width="5.80" height="1.30" fill="#9c0e2a" stroke="none" stroke-width="0"/>
<rect x="444.42" y="258.56" width="5.80" height="1.30" fill="#9c0e2a" stroke="none" stroke-width="0"/>
<rect x="444.42" y="261.57" width="5.80" height="1.30" fill="#9c0e2a" stroke="none" stroke-width="0"/>
<rect x="444.42" y="264.59" width="5.80" height="1.30" fill="#9c0e2a" stroke="none" stroke-width="0"/>
<rect x="444.42" y="267.60" width="5.80" height="1.30" fill="#9c0e2a" stroke="none" stroke-width="0"/>
<rect x="483.03" y="255.55" width="5.80" height="1.30" fill="#9c0e2a" stroke="none" stroke-width="0"/>
<rect x="483.03" y="258.56" width="5.80" height="1.30" fill="#9c0e2a" stroke="none" stroke-width="0"/>
<rect x="483.03" y="261.57" width="5.80" height="1.30" fill="#9c0e2a" stroke="none" stroke-width="0"/>
<rect x="483.03" y="264.59" width="5.80" height="1.30" fill="#9c0e2a" stroke="none" stroke-width="0"/>
<rect x="483.03" y="267.60" width="5.80" height="1.30" fill="#9c0e2a" stroke="none" stroke-width="0"/>
<rect x="444.42" y="272.55" width="5.80" height="1.30" fill="#9c0e2a" stroke="none" stroke-width="0"/>
<rect x="444.42" y="275.56" width="5.80" height="1.30" fill="#9c0e2a" stroke="none" stroke-width="0"/>
<rect x="444.42" y="278.57" width="5.80" height="1.30" fill="#9c0e2a" stroke="none" stroke-width="0"/>
<rect x="444.42" y="281.59" width="5.80" height="1.30" fill="#9c0e2a" stroke="none" stroke-width="0"/>
<rect x="444.42" y="284.60" width="5.80" height="1.30" fill="#9c0e2a" stroke="none" stroke-width="0"/>
<rect x="315.72" y="289.95" width="5.80" height="1.30" fill="#9c0e2a" stroke="none" stroke-width="0"/>
<rect x="315.72" y="292.96" width="5.80" height="1.30" fill="#9c0e2a" stroke="none" stroke-width="0"/>
<rect x="315.72" y="295.98" width="5.80" height="1.30" fill="#9c0e2a" stroke="none" stroke-width="0"/>
<rect x="315.72" y="298.99" width="5.80" height="1.30" fill="#9c0e2a" stroke="none" stroke-width="0"/>
<rect x="315.72" y="302.00" width="5.80" height="1.30" fill="#9c0e2a" stroke="none" stroke-width="0"/>
<rect x="354.33" y="289.95" width="5.80" height="1.30" fill="#9c0e2a" stroke="none" stroke-width="0"/>
<rect x="354.33" y="292.96" width="5.80" height="1.30" fill="#9c0e2a" stroke="none" stroke-width="0"/>
<rect x="354.33" y="295.98" width="5.80" height="1.30" fill="#9c0e2a" stroke="none" stroke-width="0"/>
<rect x="354.33" y="298.99" width="5.80" height="1.30" fill="#9c0e2a" stroke="none" stroke-width="0"/>
<rect x="354.33" y="302.00" width="5.80" height="1.30" fill="#9c0e2a" stroke="none" stroke-width="0"/>
<rect x="509.52" y="290.30" width="4.30" height="12.65" fill="#bd0b2b" stroke="none" stroke-width="0"/>
<rect x="392.94" y="307.85" width="5.80" height="1.30" fill="#163f6e" stroke="none" stroke-width="0"/>
<rect x="392.94" y="310.86" width="5.80" height="1.30" fill="#163f6e" stroke="none" stroke-width="0"/>
<rect x="392.94" y="313.88" width="5.80" height="1.30" fill="#163f6e" stroke="none" stroke-width="0"/>
<rect x="392.94" y="316.89" width="5.80" height="1.30" fill="#163f6e" stroke="none" stroke-width="0"/>
<rect x="392.94" y="319.90" width="5.80" height="1.30" fill="#163f6e" stroke="none" stroke-width="0"/>
<line x1="241.10" y1="320.55" x2="241.10" y2="323.60" stroke="#222" stroke-width="1.0"/>
<text x="241.10" y="333.00" font-size="6.4" text-anchor="middle" textLength="3.38" lengthAdjust="spacingAndGlyphs" fill="#1e1e1e" stroke="#1e1e1e" stroke-width="0.12">1</text>
<line x1="253.97" y1="320.55" x2="253.97" y2="323.60" stroke="#222" stroke-width="1.0"/>
<text x="253.97" y="333.00" font-size="6.4" text-anchor="middle" textLength="3.38" lengthAdjust="spacingAndGlyphs" fill="#1e1e1e" stroke="#1e1e1e" stroke-width="0.12">2</text>
<line x1="266.84" y1="320.55" x2="266.84" y2="323.60" stroke="#222" stroke-width="1.0"/>
<text x="266.84" y="333.00" font-size="6.4" text-anchor="middle" textLength="3.38" lengthAdjust="spacingAndGlyphs" fill="#1e1e1e" stroke="#1e1e1e" stroke-width="0.12">3</text>
<line x1="279.71" y1="320.55" x2="279.71" y2="323.60" stroke="#222" stroke-width="1.0"/>
<text x="279.71" y="333.00" font-size="6.4" text-anchor="middle" textLength="3.38" lengthAdjust="spacingAndGlyphs" fill="#1e1e1e" stroke="#1e1e1e" stroke-width="0.12">4</text>
<line x1="292.58" y1="320.55" x2="292.58" y2="323.60" stroke="#222" stroke-width="1.0"/>
<text x="292.58" y="333.00" font-size="6.4" text-anchor="middle" textLength="3.38" lengthAdjust="spacingAndGlyphs" fill="#1e1e1e" stroke="#1e1e1e" stroke-width="0.12">5</text>
<line x1="305.45" y1="320.55" x2="305.45" y2="323.60" stroke="#222" stroke-width="1.0"/>
<text x="305.45" y="333.00" font-size="6.4" text-anchor="middle" textLength="3.38" lengthAdjust="spacingAndGlyphs" fill="#1e1e1e" stroke="#1e1e1e" stroke-width="0.12">6</text>
<line x1="318.32" y1="320.55" x2="318.32" y2="323.60" stroke="#222" stroke-width="1.0"/>
<text x="318.32" y="333.00" font-size="6.4" text-anchor="middle" textLength="3.38" lengthAdjust="spacingAndGlyphs" fill="#1e1e1e" stroke="#1e1e1e" stroke-width="0.12">7</text>
<line x1="331.19" y1="320.55" x2="331.19" y2="323.60" stroke="#222" stroke-width="1.0"/>
<text x="331.19" y="333.00" font-size="6.4" text-anchor="middle" textLength="3.38" lengthAdjust="spacingAndGlyphs" fill="#1e1e1e" stroke="#1e1e1e" stroke-width="0.12">8</text>
<line x1="344.06" y1="320.55" x2="344.06" y2="323.60" stroke="#222" stroke-width="1.0"/>
<text x="344.06" y="333.00" font-size="6.4" text-anchor="middle" textLength="3.38" lengthAdjust="spacingAndGlyphs" fill="#1e1e1e" stroke="#1e1e1e" stroke-width="0.12">9</text>
<line x1="356.93" y1="320.55" x2="356.93" y2="323.60" stroke="#222" stroke-width="1.0"/>
<text x="356.93" y="333.00" font-size="6.4" text-anchor="middle" textLength="6.76" lengthAdjust="spacingAndGlyphs" fill="#1e1e1e" stroke="#1e1e1e" stroke-width="0.12">10</text>
<line x1="369.80" y1="320.55" x2="369.80" y2="323.60" stroke="#222" stroke-width="1.0"/>
<text x="369.80" y="333.00" font-size="6.4" text-anchor="middle" textLength="6.31" lengthAdjust="spacingAndGlyphs" fill="#1e1e1e" stroke="#1e1e1e" stroke-width="0.12">11</text>
<line x1="382.67" y1="320.55" x2="382.67" y2="323.60" stroke="#222" stroke-width="1.0"/>
<text x="382.67" y="333.00" font-size="6.4" text-anchor="middle" textLength="6.76" lengthAdjust="spacingAndGlyphs" fill="#1e1e1e" stroke="#1e1e1e" stroke-width="0.12">12</text>
<line x1="395.54" y1="320.55" x2="395.54" y2="323.60" stroke="#222" stroke-width="1.0"/>
<text x="395.54" y="333.00" font-size="6.4" text-anchor="middle" textLength="6.76" lengthAdjust="spacingAndGlyphs" fill="#1e1e1e" stroke="#1e1e1e" stroke-width="0.12">13</text>
<line x1="408.41" y1="320.55" x2="408.41" y2="323.60" stroke="#222" stroke-width="1.0"/>
<text x="408.41" y="333.00" font-size="6.4" text-anchor="middle" textLength="6.76" lengthAdjust="spacingAndGlyphs" fill="#1e1e1e" stroke="#1e1e1e" stroke-width="0.12">14</text>
<line x1="421.28" y1="320.55" x2="421.28" y2="323.60" stroke="#222" stroke-width="1.0"/>
<text x="421.28" y="333.00" font-size="6.4" text-anchor="middle" textLength="6.76" lengthAdjust="spacingAndGlyphs" fill="#1e1e1e" stroke="#1e1e1e" stroke-width="0.12">15</text>
<line x1="434.15" y1="320.55" x2="434.15" y2="323.60" stroke="#222" stroke-width="1.0"/>
<text x="434.15" y="333.00" font-size="6.4" text-anchor="middle" textLength="6.76" lengthAdjust="spacingAndGlyphs" fill="#1e1e1e" stroke="#1e1e1e" stroke-width="0.12">16</text>
<line x1="447.02" y1="320.55" x2="447.02" y2="323.60" stroke="#222" stroke-width="1.0"/>
<text x="447.02" y="333.00" font-size="6.4" text-anchor="middle" textLength="6.76" lengthAdjust="spacingAndGlyphs" fill="#1e1e1e" stroke="#1e1e1e" stroke-width="0.12">17</text>
<line x1="459.89" y1="320.55" x2="459.89" y2="323.60" stroke="#222" stroke-width="1.0"/>
<text x="459.89" y="333.00" font-size="6.4" text-anchor="middle" textLength="6.76" lengthAdjust="spacingAndGlyphs" fill="#1e1e1e" stroke="#1e1e1e" stroke-width="0.12">18</text>
<line x1="472.76" y1="320.55" x2="472.76" y2="323.60" stroke="#222" stroke-width="1.0"/>
<text x="472.76" y="333.00" font-size="6.4" text-anchor="middle" textLength="6.76" lengthAdjust="spacingAndGlyphs" fill="#1e1e1e" stroke="#1e1e1e" stroke-width="0.12">19</text>
<line x1="485.63" y1="320.55" x2="485.63" y2="323.60" stroke="#222" stroke-width="1.0"/>
<text x="485.63" y="333.00" font-size="6.4" text-anchor="middle" textLength="6.76" lengthAdjust="spacingAndGlyphs" fill="#1e1e1e" stroke="#1e1e1e" stroke-width="0.12">20</text>
<line x1="498.50" y1="320.55" x2="498.50" y2="323.60" stroke="#222" stroke-width="1.0"/>
<text x="498.50" y="333.00" font-size="6.4" text-anchor="middle" textLength="6.76" lengthAdjust="spacingAndGlyphs" fill="#1e1e1e" stroke="#1e1e1e" stroke-width="0.12">21</text>
<line x1="511.37" y1="320.55" x2="511.37" y2="323.60" stroke="#222" stroke-width="1.0"/>
<text x="511.37" y="333.00" font-size="6.4" text-anchor="middle" textLength="6.76" lengthAdjust="spacingAndGlyphs" fill="#1e1e1e" stroke="#1e1e1e" stroke-width="0.12">22</text>
<text x="189.30" y="333.00" font-size="6.9" textLength="37.0" lengthAdjust="spacingAndGlyphs" fill="#1e1e1e" stroke="#1e1e1e" stroke-width="0.12">Chromosome</text>
<circle cx="241.0" cy="347.1" r="2.4" fill="#d2d2d2" stroke="#8a8a8a" stroke-width="0.8"/>
<text x="246.00" y="349.30" font-size="6.6" textLength="43.2" lengthAdjust="spacingAndGlyphs" fill="#1e1e1e" stroke="#1e1e1e" stroke-width="0.12">loss/monosomy</text>
<circle cx="240.6" cy="357.3" r="2.5" fill="#111"/>
<text x="246.00" y="359.70" font-size="6.6" textLength="41.4" lengthAdjust="spacingAndGlyphs" fill="#1e1e1e" stroke="#1e1e1e" stroke-width="0.12">gain/polyploidy</text>
<circle cx="311.4" cy="347.2" r="2.5" fill="#184476"/>
<text x="317.20" y="349.40" font-size="6.6" textLength="28.9" lengthAdjust="spacingAndGlyphs" fill="#1e1e1e" stroke="#1e1e1e" stroke-width="0.12">MM Tumor</text>
<circle cx="311.3" cy="357.7" r="2.5" fill="#bd0b2b"/>
<text x="317.20" y="359.80" font-size="6.6" textLength="35.2" lengthAdjust="spacingAndGlyphs" fill="#1e1e1e" stroke="#1e1e1e" stroke-width="0.12">B-ALL Tumor</text>
<text x="368.00" y="349.70" font-size="6.8" textLength="98.0" lengthAdjust="spacingAndGlyphs" fill="#1e1e1e" stroke="#1e1e1e" stroke-width="0.12">*No MM Cytogenetics/FISH report</text>
<line x1="36.00" y1="278.70" x2="39.40" y2="278.70" stroke="#222" stroke-width="0.9"/>
<text x="33.80" y="280.80" font-size="6.0" text-anchor="end" fill="#1e1e1e" stroke="#1e1e1e" stroke-width="0.12">0.0</text>
<line x1="36.00" y1="261.92" x2="39.40" y2="261.92" stroke="#222" stroke-width="0.9"/>
<text x="33.80" y="264.02" font-size="6.0" text-anchor="end" fill="#1e1e1e" stroke="#1e1e1e" stroke-width="0.12">0.2</text>
<line x1="36.00" y1="245.14" x2="39.40" y2="245.14" stroke="#222" stroke-width="0.9"/>
<text x="33.80" y="247.24" font-size="6.0" text-anchor="end" fill="#1e1e1e" stroke="#1e1e1e" stroke-width="0.12">0.4</text>
<line x1="36.00" y1="228.36" x2="39.40" y2="228.36" stroke="#222" stroke-width="0.9"/>
<text x="33.80" y="230.46" font-size="6.0" text-anchor="end" fill="#1e1e1e" stroke="#1e1e1e" stroke-width="0.12">0.6</text>
<line x1="36.00" y1="211.58" x2="39.40" y2="211.58" stroke="#222" stroke-width="0.9"/>
<text x="33.80" y="213.68" font-size="6.0" text-anchor="end" fill="#1e1e1e" stroke="#1e1e1e" stroke-width="0.12">0.8</text>
<line x1="36.00" y1="194.80" x2="39.40" y2="194.80" stroke="#222" stroke-width="0.9"/>
<text x="33.80" y="196.90" font-size="6.0" text-anchor="end" fill="#1e1e1e" stroke="#1e1e1e" stroke-width="0.12">1.0</text>
<text transform="translate(18.80,266.60) rotate(-90)" font-size="7.6" textLength="54.8" lengthAdjust="spacingAndGlyphs" fill="#222" stroke="#222" stroke-width="0.12">Percent of reads (%)</text>
<text x="58.50" y="190.50" font-size="8.2" text-anchor="middle" textLength="19.8" lengthAdjust="spacingAndGlyphs" fill="#1e1e1e" stroke="#1e1e1e" stroke-width="0.12">GTB-1</text>
<rect x="39.40" y="278.70" width="38.00" height="4.10" fill="#fbf1f4" stroke="none" stroke-width="0"/>
<path d="M47.30,278.70 L49.60,250.17 L51.90,278.70 Z" fill="#a9c4e0" fill-opacity="0.3" stroke="none"/>
<path d="M47.30,278.70 L49.60,250.17 L51.90,278.70" fill="none" stroke="#184476" stroke-width="0.9" stroke-linejoin="round"/>
<path d="M66.10,278.70 L67.71,208.55 Q68.40,204.55 69.09,208.55 L70.70,278.70 Z" fill="#f2b8c6" fill-opacity="0.3" stroke="none"/>
<path d="M66.10,278.70 L67.71,208.55 Q68.40,204.55 69.09,208.55 L70.70,278.70" fill="none" stroke="#bd0b2b" stroke-width="0.9" stroke-linejoin="round"/>
<line x1="39.40" y1="278.70" x2="77.40" y2="278.70" stroke="#8b2746" stroke-width="1.0"/>
<rect x="39.40" y="194.80" width="38.00" height="88.00" fill="none" stroke="#222" stroke-width="1.1"/>
<line x1="49.30" y1="282.80" x2="49.30" y2="285.30" stroke="#222" stroke-width="0.9"/>
<text x="49.30" y="292.00" font-size="3.1" text-anchor="middle" textLength="17.79" lengthAdjust="spacingAndGlyphs" fill="#666">IGHV3-70_11</text>
<text x="49.30" y="298.60" font-size="3.1" text-anchor="middle" textLength="13.26" lengthAdjust="spacingAndGlyphs" fill="#666">IGHJ6_03</text>
<line x1="68.40" y1="282.80" x2="68.40" y2="285.30" stroke="#222" stroke-width="0.9"/>
<text x="68.40" y="292.00" font-size="3.1" text-anchor="middle" textLength="16.37" lengthAdjust="spacingAndGlyphs" fill="#666">IGHV3-1_03</text>
<text x="68.40" y="298.60" font-size="3.1" text-anchor="middle" textLength="13.26" lengthAdjust="spacingAndGlyphs" fill="#666">IGHJ4_03</text>
<text x="104.35" y="190.50" font-size="8.2" text-anchor="middle" textLength="21.0" lengthAdjust="spacingAndGlyphs" fill="#1e1e1e" stroke="#1e1e1e" stroke-width="0.12">GTB-3</text>
<rect x="85.50" y="278.70" width="37.50" height="4.10" fill="#fbf1f4" stroke="none" stroke-width="0"/>
<path d="M92.70,278.70 L95.30,208.64 L97.90,278.70 Z" fill="#a9c4e0" fill-opacity="0.3" stroke="none"/>
<path d="M92.70,278.70 L95.30,208.64 L97.90,278.70" fill="none" stroke="#184476" stroke-width="0.9" stroke-linejoin="round"/>
<path d="M112.00,278.70 C112.46,257.70 113.03,246.40 114.30,246.40 C115.56,246.40 116.14,257.70 116.60,278.70 Z" fill="#f2b8c6" fill-opacity="0.3" stroke="none"/>
<path d="M112.00,278.70 C112.46,257.70 113.03,246.40 114.30,246.40 C115.56,246.40 116.14,257.70 116.60,278.70" fill="none" stroke="#bd0b2b" stroke-width="0.9" stroke-linejoin="round"/>
<line x1="85.50" y1="278.70" x2="123.00" y2="278.70" stroke="#8b2746" stroke-width="1.0"/>
<rect x="85.50" y="194.80" width="37.50" height="88.00" fill="none" stroke="#222" stroke-width="1.1"/>
<line x1="94.40" y1="282.80" x2="94.40" y2="285.30" stroke="#222" stroke-width="0.9"/>
<text x="94.40" y="292.00" font-size="3.1" text-anchor="middle" textLength="18.01" lengthAdjust="spacingAndGlyphs" fill="#666">IGHV3-70_13</text>
<text x="94.40" y="298.60" font-size="3.1" text-anchor="middle" textLength="13.26" lengthAdjust="spacingAndGlyphs" fill="#666">IGHJ4_03</text>
<line x1="114.40" y1="282.80" x2="114.40" y2="285.30" stroke="#222" stroke-width="0.9"/>
<text x="114.40" y="292.00" font-size="3.1" text-anchor="middle" textLength="16.37" lengthAdjust="spacingAndGlyphs" fill="#666">IGHV3-9_08</text>
<text x="114.40" y="298.60" font-size="3.1" text-anchor="middle" textLength="13.26" lengthAdjust="spacingAndGlyphs" fill="#666">IGHJ6_03</text>
<text x="150.20" y="190.50" font-size="8.2" text-anchor="middle" textLength="20.8" lengthAdjust="spacingAndGlyphs" fill="#1e1e1e" stroke="#1e1e1e" stroke-width="0.12">GTB-4</text>
<rect x="131.00" y="278.70" width="38.20" height="4.10" fill="#fbf1f4" stroke="none" stroke-width="0"/>
<path d="M138.50,278.70 L140.80,248.50 L143.10,278.70 Z" fill="#a9c4e0" fill-opacity="0.3" stroke="none"/>
<path d="M138.50,278.70 L140.80,248.50 L143.10,278.70" fill="none" stroke="#184476" stroke-width="0.9" stroke-linejoin="round"/>
<path d="M157.30,278.70 C157.70,267.52 158.20,261.50 159.30,261.50 C160.40,261.50 160.90,267.52 161.30,278.70 Z" fill="#f2b8c6" fill-opacity="0.3" stroke="none"/>
<path d="M157.30,278.70 C157.70,267.52 158.20,261.50 159.30,261.50 C160.40,261.50 160.90,267.52 161.30,278.70" fill="none" stroke="#bd0b2b" stroke-width="0.9" stroke-linejoin="round"/>
<line x1="131.00" y1="278.70" x2="169.20" y2="278.70" stroke="#8b2746" stroke-width="1.0"/>
<rect x="131.00" y="194.80" width="38.20" height="88.00" fill="none" stroke="#222" stroke-width="1.1"/>
<line x1="140.50" y1="282.80" x2="140.50" y2="285.30" stroke="#222" stroke-width="0.9"/>
<text x="140.50" y="292.00" font-size="3.1" text-anchor="middle" textLength="18.01" lengthAdjust="spacingAndGlyphs" fill="#666">IGHV1-46_03</text>
<text x="140.50" y="298.60" font-size="3.1" text-anchor="middle" textLength="13.26" lengthAdjust="spacingAndGlyphs" fill="#666">IGHJ4_03</text>
<line x1="159.60" y1="282.80" x2="159.60" y2="285.30" stroke="#222" stroke-width="0.9"/>
<text x="159.60" y="292.00" font-size="3.1" text-anchor="middle" textLength="16.37" lengthAdjust="spacingAndGlyphs" fill="#666">IGHV3-1_03</text>
<text x="159.60" y="298.60" font-size="3.1" text-anchor="middle" textLength="13.26" lengthAdjust="spacingAndGlyphs" fill="#666">IGHJ3_03</text>
<text x="34.70" y="292.80" font-size="7.0" text-anchor="end" textLength="19.4" lengthAdjust="spacingAndGlyphs" fill="#333" stroke="#333" stroke-width="0.12">V-gene</text>
<text x="34.70" y="299.60" font-size="7.0" text-anchor="end" textLength="18.0" lengthAdjust="spacingAndGlyphs" fill="#333" stroke="#333" stroke-width="0.12">J-gene</text>
<line x1="39.00" y1="423.00" x2="42.40" y2="423.00" stroke="#222" stroke-width="0.9"/>
<text x="36.80" y="425.10" font-size="6.0" text-anchor="end" fill="#1e1e1e" stroke="#1e1e1e" stroke-width="0.12">0.0</text>
<line x1="39.00" y1="406.16" x2="42.40" y2="406.16" stroke="#222" stroke-width="0.9"/>
<text x="36.80" y="408.26" font-size="6.0" text-anchor="end" fill="#1e1e1e" stroke="#1e1e1e" stroke-width="0.12">0.2</text>
<line x1="39.00" y1="389.32" x2="42.40" y2="389.32" stroke="#222" stroke-width="0.9"/>
<text x="36.80" y="391.42" font-size="6.0" text-anchor="end" fill="#1e1e1e" stroke="#1e1e1e" stroke-width="0.12">0.4</text>
<line x1="39.00" y1="372.48" x2="42.40" y2="372.48" stroke="#222" stroke-width="0.9"/>
<text x="36.80" y="374.58" font-size="6.0" text-anchor="end" fill="#1e1e1e" stroke="#1e1e1e" stroke-width="0.12">0.6</text>
<line x1="39.00" y1="355.64" x2="42.40" y2="355.64" stroke="#222" stroke-width="0.9"/>
<text x="36.80" y="357.74" font-size="6.0" text-anchor="end" fill="#1e1e1e" stroke="#1e1e1e" stroke-width="0.12">0.8</text>
<line x1="39.00" y1="338.80" x2="42.40" y2="338.80" stroke="#222" stroke-width="0.9"/>
<text x="36.80" y="340.90" font-size="6.0" text-anchor="end" fill="#1e1e1e" stroke="#1e1e1e" stroke-width="0.12">1.0</text>
<text transform="translate(18.80,410.30) rotate(-90)" font-size="7.6" textLength="54.8" lengthAdjust="spacingAndGlyphs" fill="#222" stroke="#222" stroke-width="0.12">Percent of reads (%)</text>
<text x="61.60" y="334.50" font-size="8.2" text-anchor="middle" textLength="21.4" lengthAdjust="spacingAndGlyphs" fill="#1e1e1e" stroke="#1e1e1e" stroke-width="0.12">GTB-5</text>
<rect x="42.40" y="423.00" width="38.20" height="4.10" fill="#fbf1f4" stroke="none" stroke-width="0"/>
<path d="M49.50,423.00 L51.90,356.82 L54.30,423.00 Z" fill="#a9c4e0" fill-opacity="0.3" stroke="none"/>
<path d="M49.50,423.00 L51.90,356.82 L54.30,423.00" fill="none" stroke="#184476" stroke-width="0.9" stroke-linejoin="round"/>
<path d="M68.60,423.00 C69.06,411.23 69.64,404.90 70.90,404.90 C72.17,404.90 72.74,411.23 73.20,423.00 Z" fill="#f2b8c6" fill-opacity="0.3" stroke="none"/>
<path d="M68.60,423.00 C69.06,411.23 69.64,404.90 70.90,404.90 C72.17,404.90 72.74,411.23 73.20,423.00" fill="none" stroke="#bd0b2b" stroke-width="0.9" stroke-linejoin="round"/>
<line x1="42.40" y1="423.00" x2="80.60" y2="423.00" stroke="#8b2746" stroke-width="1.0"/>
<rect x="42.40" y="338.80" width="38.20" height="88.30" fill="none" stroke="#222" stroke-width="1.1"/>
<line x1="51.40" y1="427.10" x2="51.40" y2="429.60" stroke="#222" stroke-width="0.9"/>
<text x="51.40" y="437.80" font-size="3.1" text-anchor="middle" textLength="18.01" lengthAdjust="spacingAndGlyphs" fill="#666">IGHV1-46_13</text>
<text x="51.40" y="448.30" font-size="3.1" text-anchor="middle" textLength="13.26" lengthAdjust="spacingAndGlyphs" fill="#666">IGHJ6_03</text>
<line x1="70.90" y1="427.10" x2="70.90" y2="429.60" stroke="#222" stroke-width="0.9"/>
<text x="70.90" y="437.80" font-size="3.1" text-anchor="middle" textLength="18.01" lengthAdjust="spacingAndGlyphs" fill="#666">IGHV3-30_01</text>
<text x="70.90" y="448.30" font-size="3.1" text-anchor="middle" textLength="13.26" lengthAdjust="spacingAndGlyphs" fill="#666">IGHJ4_02</text>
<text x="107.40" y="334.50" font-size="8.2" text-anchor="middle" textLength="21.0" lengthAdjust="spacingAndGlyphs" fill="#1e1e1e" stroke="#1e1e1e" stroke-width="0.12">GTB-6</text>
<rect x="88.20" y="423.00" width="38.20" height="4.10" fill="#fbf1f4" stroke="none" stroke-width="0"/>
<path d="M95.40,423.00 L97.80,364.06 L100.20,423.00 Z" fill="#a9c4e0" fill-opacity="0.3" stroke="none"/>
<path d="M95.40,423.00 L97.80,364.06 L100.20,423.00" fill="none" stroke="#184476" stroke-width="0.9" stroke-linejoin="round"/>
<path d="M114.60,423.00 C115.00,422.34 115.50,421.99 116.60,421.99 C117.70,421.99 118.20,422.34 118.60,423.00 Z" fill="#f2b8c6" fill-opacity="0.3" stroke="none"/>
<path d="M114.60,423.00 C115.00,422.34 115.50,421.99 116.60,421.99 C117.70,421.99 118.20,422.34 118.60,423.00" fill="none" stroke="#bd0b2b" stroke-width="0.9" stroke-linejoin="round"/>
<line x1="88.20" y1="423.00" x2="126.40" y2="423.00" stroke="#8b2746" stroke-width="1.0"/>
<rect x="88.20" y="338.80" width="38.20" height="88.30" fill="none" stroke="#222" stroke-width="1.1"/>
<line x1="97.70" y1="427.10" x2="97.70" y2="429.60" stroke="#222" stroke-width="0.9"/>
<text x="97.70" y="437.80" font-size="3.1" text-anchor="middle" textLength="16.37" lengthAdjust="spacingAndGlyphs" fill="#666">IGHV3-1_03</text>
<text x="97.70" y="448.30" font-size="3.1" text-anchor="middle" textLength="13.26" lengthAdjust="spacingAndGlyphs" fill="#666">IGHJ4_02</text>
<line x1="116.90" y1="427.10" x2="116.90" y2="429.60" stroke="#222" stroke-width="0.9"/>
<text x="116.90" y="437.80" font-size="3.1" text-anchor="middle" textLength="4.91" lengthAdjust="spacingAndGlyphs" fill="#666">N/A</text>
<text x="116.90" y="448.30" font-size="3.1" text-anchor="middle" textLength="4.91" lengthAdjust="spacingAndGlyphs" fill="#666">N/A</text>
<text x="152.80" y="334.50" font-size="8.2" text-anchor="middle" textLength="24.2" lengthAdjust="spacingAndGlyphs" fill="#1e1e1e" stroke="#1e1e1e" stroke-width="0.12">GTB-11</text>
<rect x="133.60" y="423.00" width="38.20" height="4.10" fill="#fbf1f4" stroke="none" stroke-width="0"/>
<path d="M141.20,423.00 L143.10,416.26 L145.00,423.00 Z" fill="#a9c4e0" fill-opacity="0.3" stroke="none"/>
<path d="M141.20,423.00 L143.10,416.26 L145.00,423.00" fill="none" stroke="#184476" stroke-width="0.9" stroke-linejoin="round"/>
<path d="M160.40,423.00 L162.70,364.06 L165.00,423.00 Z" fill="#f2b8c6" fill-opacity="0.3" stroke="none"/>
<path d="M160.40,423.00 L162.70,364.06 L165.00,423.00" fill="none" stroke="#bd0b2b" stroke-width="0.9" stroke-linejoin="round"/>
<line x1="133.60" y1="423.00" x2="171.80" y2="423.00" stroke="#8b2746" stroke-width="1.0"/>
<rect x="133.60" y="338.80" width="38.20" height="88.30" fill="none" stroke="#222" stroke-width="1.1"/>
<line x1="143.10" y1="427.10" x2="143.10" y2="429.60" stroke="#222" stroke-width="0.9"/>
<text x="143.10" y="437.80" font-size="3.1" text-anchor="middle" textLength="16.37" lengthAdjust="spacingAndGlyphs" fill="#666">IGHV1-3_05</text>
<text x="143.10" y="448.30" font-size="3.1" text-anchor="middle" textLength="13.26" lengthAdjust="spacingAndGlyphs" fill="#666">IGHJ4_02</text>
<line x1="162.70" y1="427.10" x2="162.70" y2="429.60" stroke="#222" stroke-width="0.9"/>
<text x="162.70" y="437.80" font-size="3.1" text-anchor="middle" textLength="16.37" lengthAdjust="spacingAndGlyphs" fill="#666">IGHV1-3_01</text>
<text x="162.70" y="448.30" font-size="3.1" text-anchor="middle" textLength="13.26" lengthAdjust="spacingAndGlyphs" fill="#666">IGHJ6_02</text>
<text x="33.80" y="439.00" font-size="7.0" text-anchor="end" textLength="19.6" lengthAdjust="spacingAndGlyphs" fill="#333" stroke="#333" stroke-width="0.12">V-gene</text>
<text x="33.80" y="449.40" font-size="7.0" text-anchor="end" textLength="18.2" lengthAdjust="spacingAndGlyphs" fill="#333" stroke="#333" stroke-width="0.12">J-gene</text>
</svg>
</body></html>
